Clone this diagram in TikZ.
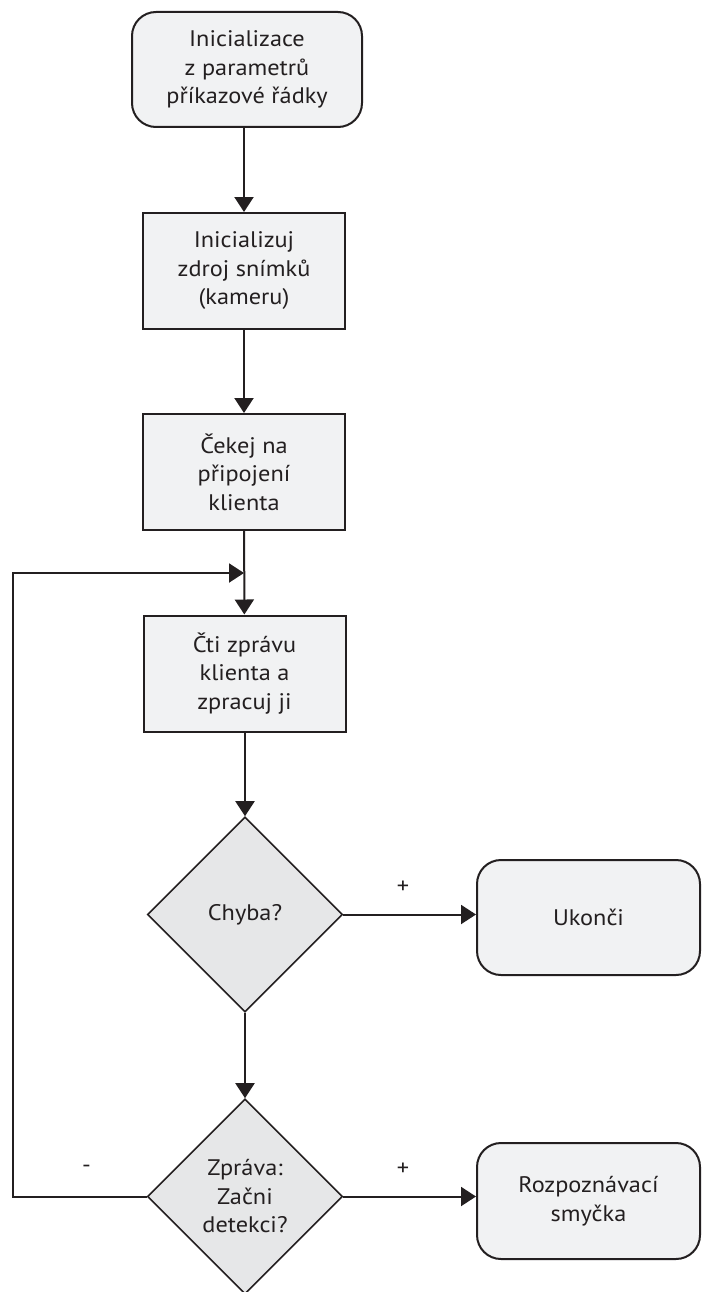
\documentclass[tikz,border=0pt]{standalone}
\usepackage{fontspec}
\setmainfont{PT Sans}[FakeStretch=1.08]
\usetikzlibrary{shapes.geometric,arrows.meta}
\definecolor{ink}{HTML}{231F20}
\definecolor{boxfill}{HTML}{F1F2F3}
\definecolor{dfill}{HTML}{E6E7E8}
\begin{document}
\begin{tikzpicture}[x=1pt,y=-1pt,
 every node/.style={font=\fontsize{22.5}{28.5}\selectfont, text=ink, align=center},
 procbox/.style={draw=ink, line width=2pt, fill=boxfill, minimum width=202pt, minimum height=116pt, inner sep=0pt},
 termbox/.style={procbox, rounded corners=24pt, minimum width=230pt, minimum height=115pt},
 decision/.style={diamond, draw=ink, line width=1.6pt, fill=dfill, minimum width=195pt, minimum height=195pt, inner sep=0pt, aspect=1},
 flow/.style={draw=ink, line width=2pt, -{Triangle[length=15pt,width=19pt]}},
 lbl/.style={font=\fontsize{22.5}{28.5}\selectfont, inner sep=0pt}
]
\useasboundingbox (0,0) rectangle (701,1292);
\fill[white] (0,0) rectangle (701,1292);

\node[termbox] (init) at (247,69.5) {Inicializace\\z parametrů\\příkazové řádky};
\node[procbox] (cam) at (244,271) {Inicializuj\\zdroj snímků\\(kameru)};
\node[procbox] (wait) at (244,472) {Čekej na\\připojení\\klienta};
\node[procbox] (read) at (244.5,673.5) {Čti zprávu\\klienta a\\zpracuj ji};
\node[decision] (err) at (245,914.5) {Chyba?};
\node[termbox, minimum width=223pt] (end) at (588.5,917.5) {Ukonči};
\node[decision] (msg) at (245,1196.5) {Zpráva:\\Začni\\detekci?};
\node[termbox, minimum width=223pt, minimum height=116pt] (recog) at (588.5,1201) {Rozpoznávací\\smyčka};

\coordinate (loopA) at (13,1196.5);
\coordinate (loopB) at (13,573);
\coordinate (join) at (244,573);

\draw[flow] (init.south -| cam.north) -- (cam.north);
\draw[flow] (cam) -- (wait);
\draw[flow] (wait) -- (read);
\draw[flow] (read.south -| err.north) -- (err.north);
\draw[flow] (err) -- (msg);
\draw[flow] (err.east) -- (err.east -| end.west)
  node[lbl, pos=0.45, yshift=27pt] {+};
\draw[flow] (msg.east) -- (msg.east -| recog.west)
  node[lbl, pos=0.45, yshift=27pt] {+};
\draw[flow] (msg.west) -- (loopA)
  node[lbl, pos=0.45, yshift=28pt] {-}
  -- (loopB) -- (join);
\end{tikzpicture}
\end{document}
